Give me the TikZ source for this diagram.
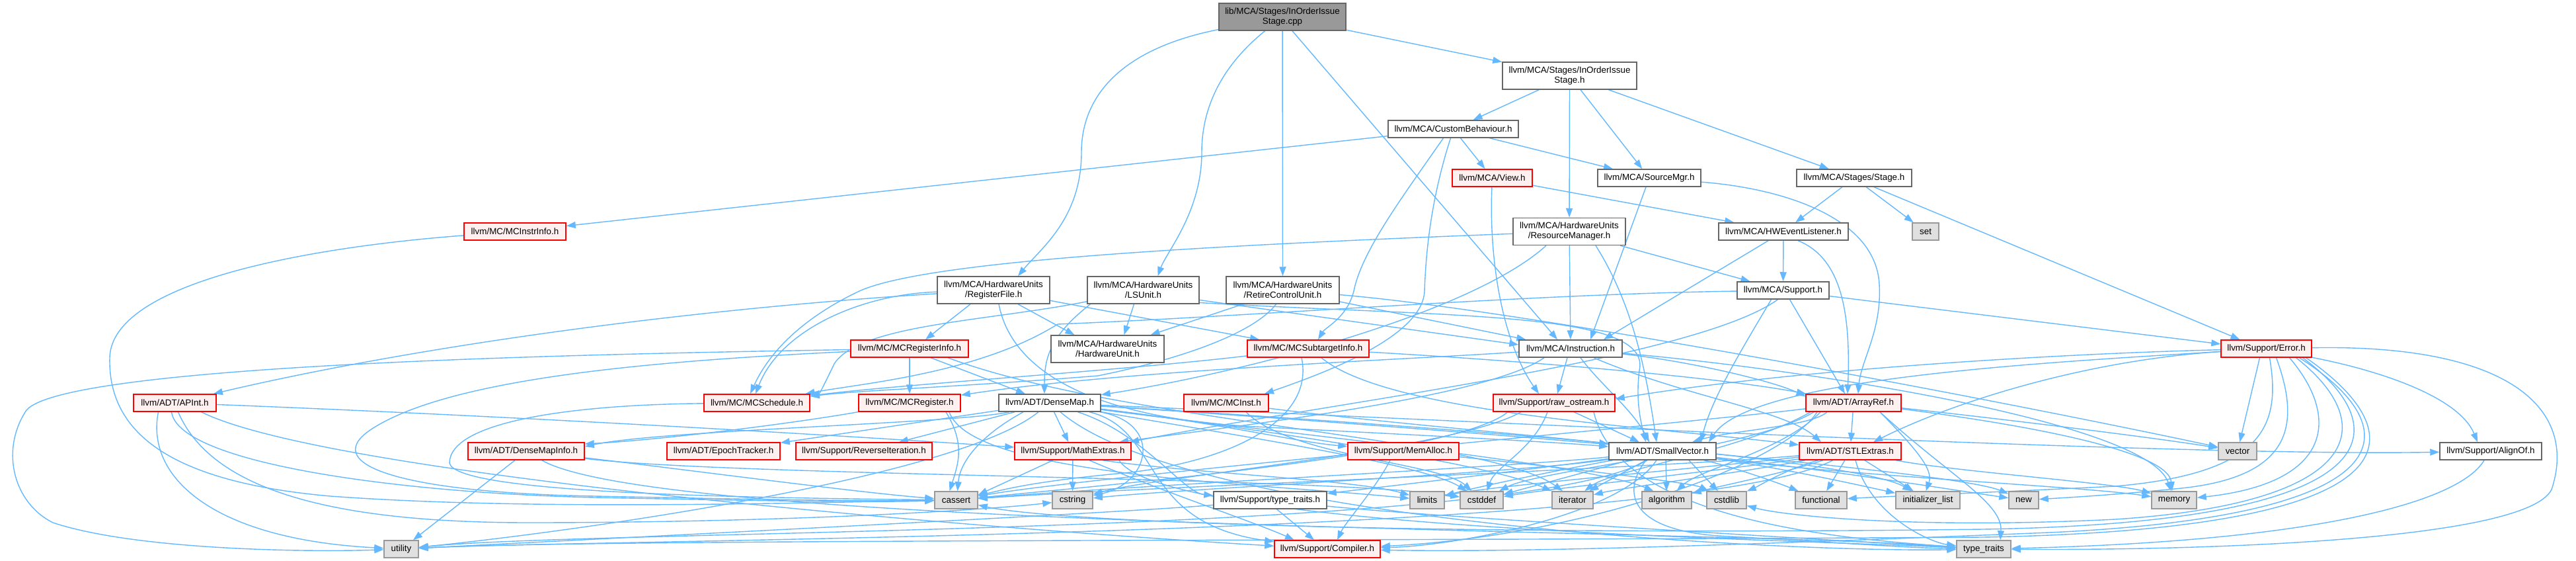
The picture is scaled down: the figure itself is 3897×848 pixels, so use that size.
\documentclass[tikz,border=0pt]{standalone}
\usepackage{fontspec}
\setmainfont{Liberation Sans}
\usetikzlibrary{arrows.meta}
\definecolor{edgec}{HTML}{63B8FF}
\definecolor{greyd}{HTML}{666666}
\definecolor{redfill}{HTML}{FFF0F0}
\definecolor{redc}{HTML}{FF0000}
\definecolor{sysfill}{HTML}{E0E0E0}
\definecolor{sysdraw}{HTML}{999999}
\definecolor{rootfill}{HTML}{999999}
\pgfdeclarelayer{bg}
\pgfsetlayers{bg,main}
\tikzset{
  nbox/.style={rectangle, draw, line width=1.5pt, inner sep=0pt, minimum height=26pt, align=center, font=\fontsize{13.4}{15}\selectfont},
  wbox/.style={nbox, fill=white, draw=greyd},
  rbox/.style={nbox, fill=redfill, draw=redc},
  gbox/.style={nbox, fill=sysfill, draw=sysdraw},
  rootbox/.style={nbox, fill=rootfill, draw=greyd},
  twol/.style={minimum height=41pt},
  dep/.style={draw=edgec, line width=1.4pt, -{Triangle[length=14pt,width=10pt]}},
}
\begin{document}
\begin{tikzpicture}[x=1pt,y=-1pt]
\useasboundingbox (0,0) rectangle (3897,848);
% ---------- nodes ----------
\node[rootbox,twol,minimum width=192pt] (root) at (1940,25.5) {lib/MCA/Stages/InOrderIssue\\Stage.cpp};
\node[wbox,twol,minimum width=203pt] (IOSh) at (2374.5,114.5) {llvm/MCA/Stages/InOrderIssue\\Stage.h};
\node[wbox,minimum width=197pt] (CB) at (2198.5,195) {llvm/MCA/CustomBehaviour.h};
\node[rbox,minimum width=121pt] (View) at (2257.5,269) {llvm/MCA/View.h};
\node[wbox,minimum width=156pt] (SrcMgr) at (2495,269) {llvm/MCA/SourceMgr.h};
\node[wbox,minimum width=174pt] (Stage) at (2805,269) {llvm/MCA/Stages/Stage.h};
\node[rbox,minimum width=154pt] (InstrInfo) at (779,350) {llvm/MC/MCInstrInfo.h};
\node[wbox,twol,minimum width=170pt] (RM) at (2374,350) {llvm/MCA/HardwareUnits\\/ResourceManager.h};
\node[wbox,minimum width=196pt] (HWEL) at (2698,350) {llvm/MCA/HWEventListener.h};
\node[gbox,minimum width=40pt] (set) at (2913,350) {set};
\node[wbox,twol,minimum width=170pt] (RF) at (1503,438.5) {llvm/MCA/HardwareUnits\\/RegisterFile.h};
\node[wbox,twol,minimum width=169pt] (LSU) at (1729.5,438.5) {llvm/MCA/HardwareUnits\\/LSUnit.h};
\node[wbox,twol,minimum width=171pt] (RCU) at (1940.5,438.5) {llvm/MCA/HardwareUnits\\/RetireControlUnit.h};
\node[wbox,minimum width=139pt] (Sup) at (2697.5,439) {llvm/MCA/Support.h};
\node[rbox,minimum width=178pt] (RegInfo) at (1376,527) {llvm/MC/MCRegisterInfo.h};
\node[wbox,twol,minimum width=171pt] (HWU) at (1675.5,527.5) {llvm/MCA/HardwareUnits\\/HardwareUnit.h};
\node[rbox,minimum width=184pt] (STI) at (1979,527) {llvm/MC/MCSubtargetInfo.h};
\node[wbox,minimum width=156pt] (Instr) at (2376,527) {llvm/MCA/Instruction.h};
\node[rbox,minimum width=137pt] (Err) at (3428.5,527) {llvm/Support/Error.h};
\node[rbox,minimum width=125pt] (APInt) at (264.5,609) {llvm/ADT/APInt.h};
\node[rbox,minimum width=160pt] (Sched) at (1145,609) {llvm/MC/MCSchedule.h};
\node[rbox,minimum width=154pt] (MCReg) at (1376,609) {llvm/MC/MCRegister.h};
\node[wbox,minimum width=154pt] (DM) at (1588,609) {llvm/ADT/DenseMap.h};
\node[rbox,minimum width=128pt] (MCInst) at (1855,609) {llvm/MC/MCInst.h};
\node[rbox,minimum width=184pt] (raw) at (2351,609) {llvm/Support/raw\_ostream.h};
\node[rbox,minimum width=144pt] (AR) at (2804,609) {llvm/ADT/ArrayRef.h};
\node[rbox,minimum width=176pt] (DMI) at (796,682) {llvm/ADT/DenseMapInfo.h};
\node[rbox,minimum width=171pt] (Epoch) at (1094.5,682) {llvm/ADT/EpochTracker.h};
\node[rbox,minimum width=206pt] (RevIt) at (1307,682) {llvm/Support/ReverseIteration.h};
\node[rbox,minimum width=176pt] (Math) at (1623,682) {llvm/Support/MathExtras.h};
\node[rbox,minimum width=168pt] (MemA) at (2123,682) {llvm/Support/MemAlloc.h};
\node[wbox,minimum width=162pt] (SV) at (2515,682) {llvm/ADT/SmallVector.h};
\node[rbox,minimum width=154pt] (STL) at (2799,682) {llvm/ADT/STLExtras.h};
\node[gbox,minimum width=58pt] (vector) at (3385,682) {vector};
\node[wbox,minimum width=154pt] (AlignOf) at (3768,682) {llvm/Support/AlignOf.h};
\node[gbox,minimum width=65pt] (cassert) at (1446.5,756) {cassert};
\node[gbox,minimum width=61pt] (cstring) at (1622.5,756) {cstring};
\node[wbox,minimum width=171pt] (lltt) at (1921.5,756) {llvm/Support/type\_traits.h};
\node[gbox,minimum width=52pt] (limits) at (2159,756) {limits};
\node[gbox,minimum width=65pt] (cstddef) at (2241.5,756) {cstddef};
\node[gbox,minimum width=62pt] (iterator) at (2379,756) {iterator};
\node[gbox,minimum width=75pt] (algorithm) at (2521.5,756) {algorithm};
\node[gbox,minimum width=60pt] (cstdlib) at (2612,756) {cstdlib};
\node[gbox,minimum width=78pt] (functional) at (2755,756) {functional};
\node[gbox,minimum width=97pt] (initlist) at (2916.5,756) {initializer\_list};
\node[gbox,minimum width=45pt] (new) at (3061.5,756) {new};
\node[gbox,minimum width=68pt] (memory) at (3289,756) {memory};
\node[gbox,minimum width=52pt] (utility) at (607,830) {utility};
\node[rbox,minimum width=160pt] (Comp) at (2008,830) {llvm/Support/Compiler.h};
\node[gbox,minimum width=82pt] (tt) at (3001,830) {type\_traits};
% ---------- edges ----------
\begin{pgfonlayer}{bg}
% root
\draw[dep] (root) -- (IOSh);
\draw[dep] (root) .. controls (1690,75) and (1636,150) .. (1636,230) .. controls (1636,330) and (1575,375) .. ([xshift=37pt]RF.north);
\draw[dep] (root) .. controls (1860,90) and (1818,150) .. (1818,230) .. controls (1818,320) and (1765,380) .. ([xshift=22pt]LSU.north);
\draw[dep] (root) -- (RCU);
\draw[dep] ([xshift=15pt]root.south) -- ([xshift=-20pt]Instr.north);
% InOrderIssueStage.h
\draw[dep] (IOSh) -- (CB);
\draw[dep] (IOSh) -- (RM);
\draw[dep] (IOSh) -- (SrcMgr);
\draw[dep] (IOSh) -- (Stage);
% CustomBehaviour
\draw[dep] (CB) -- (InstrInfo);
\draw[dep] ([xshift=-15pt]CB.south) .. controls (2120,300) and (2060,380) .. (2048,440) .. controls (2038,480) and (2005,495) .. ([xshift=15pt]STI.north);
\draw[dep] ([xshift=-4pt]CB.south) .. controls (2165,300) and (2157,380) .. (2155,440) .. controls (2152,510) and (2000,565) .. ([xshift=58pt]MCInst.north);
\draw[dep] (CB) -- (View);
\draw[dep] (CB) -- (SrcMgr);
% View
\draw[dep] (View) .. controls (2252,400) and (2275,520) .. ([xshift=-23pt]raw.north);
\draw[dep] (View) -- (HWEL);
% SourceMgr
\draw[dep] (SrcMgr) -- ([xshift=30pt]Instr.north);
\draw[dep] (SrcMgr) .. controls (2700,285) and (2838,330) .. (2843,430) .. controls (2847,500) and (2815,545) .. ([xshift=7pt]AR.north);
% Stage
\draw[dep] (Stage) -- (HWEL);
\draw[dep] (Stage) -- (set);
\draw[dep] ([xshift=30pt]Stage.south) -- ([xshift=-40pt]Err.north);
% ResourceManager
\draw[dep] (RM) .. controls (1800,372) and (1400,395) .. (1300,440) .. controls (1205,485) and (1160,540) .. ([xshift=-10pt]Sched.north);
\draw[dep] ([xshift=-35pt]RM.south) .. controls (2230,470) and (1900,560) .. (DM);
\draw[dep] (RM) -- (Instr);
\draw[dep] ([xshift=40pt]RM.south) .. controls (2470,460) and (2490,560) .. ([xshift=-9pt]SV.north);
\draw[dep] (RM) -- (Sup);
% HWEventListener
\draw[dep] (HWEL) -- ([xshift=50pt]Instr.north);
\draw[dep] (HWEL) -- (Sup);
\draw[dep] ([xshift=22pt]HWEL.south) .. controls (2785,390) and (2800,470) .. ([xshift=-9pt]AR.north);
% Support
\draw[dep] (Sup) .. controls (2300,445) and (1900,478) .. (1600,490) .. controls (1480,565) and (1300,580) .. (Sched);
\draw[dep] ([xshift=-18pt]Sup.south) .. controls (2640,520) and (2590,600) .. ([xshift=58pt]SV.north);
\draw[dep] ([xshift=10pt]Sup.south) -- ([xshift=-13pt]AR.north);
\draw[dep] (Sup) -- ([yshift=7pt]Err.west);
\draw[dep] ([xshift=-8pt]Sup.south) .. controls (2560,545) and (2000,610) .. ([xshift=86pt]Math.north);
% Instruction
\draw[dep] (Instr) .. controls (2100,545) and (1700,560) .. (MCReg);
\draw[dep] ([xshift=-40pt]Instr.south) .. controls (2250,600) and (1900,640) .. ([xshift=70pt]Math.north);
\draw[dep] ([xshift=-5pt]Instr.south) -- ([xshift=5pt]raw.north);
\draw[dep] ([xshift=15pt]Instr.south) .. controls (2420,580) and (2470,620) .. ([xshift=-20pt]SV.north);
\draw[dep] ([xshift=35pt]Instr.south) .. controls (2550,600) and (2700,620) .. ([xshift=-44pt]STL.north);
\draw[dep] (Instr) .. controls (2550,545) and (2680,575) .. ([yshift=10pt]AR.west);
\draw[dep] (Instr) .. controls (2750,560) and (3250,640) .. (memory);
% RegisterFile
\draw[dep] (RF) .. controls (1000,470) and (600,530) .. (APInt);
\draw[dep] (RF) .. controls (1300,445) and (1180,500) .. ([xshift=-2pt]Sched.north);
\draw[dep] ([xshift=-35pt]RF.south) -- ([xshift=24pt]RegInfo.north);
\draw[dep] ([xshift=8pt]RF.south) .. controls (1530,560) and (1650,632) .. (1900,645) .. controls (2150,658) and (2350,668) .. (SV);
\draw[dep] ([xshift=37pt]RF.south) -- ([xshift=-50pt]HWU.north);
\draw[dep] (RF) -- (STI);
% LSUnit
\draw[dep] (LSU) .. controls (1500,485) and (1300,490) .. (1262,550) .. controls (1250,575) and (1240,595) .. (Sched);
\draw[dep] ([xshift=-80pt]LSU.south) .. controls (1585,510) and (1580,545) .. ([xshift=-8pt]DM.north);
\draw[dep] ([xshift=-14pt]LSU.south) -- ([xshift=25pt]HWU.north);
\draw[dep] ([yshift=-15pt]LSU.east) -- ([yshift=6pt]Instr.west);
\draw[dep] ([yshift=-19pt]LSU.east) .. controls (2200,480) and (2500,470) .. (2480,560) .. controls (2475,600) and (2480,630) .. ([xshift=-25pt]SV.north);
% RetireControlUnit
\draw[dep] ([xshift=-60pt]RCU.south) -- ([xshift=65pt]HWU.north);
\draw[dep] ([xshift=-10pt]RCU.south) .. controls (1900,500) and (1800,540) .. (1661,568) .. controls (1450,585) and (1300,590) .. (Sched);
\draw[dep] (RCU) -- (Instr);
\draw[dep] (RCU) .. controls (2300,468) and (3000,600) .. (vector);
% MCRegisterInfo
\draw[dep] (RegInfo) -- (MCReg);
\draw[dep] ([xshift=32pt]RegInfo.south) -- ([xshift=-37pt]DM.north);
\draw[dep] ([xshift=58pt]RegInfo.south) .. controls (1700,640) and (2250,660) .. ([xshift=-15pt]iterator.north);
\draw[dep] (RegInfo) .. controls (900,535) and (100,550) .. (40,620) .. controls (0,680) and (20,760) .. (80,790) .. controls (200,830) and (450,835) .. (utility);
\draw[dep] (RegInfo) .. controls (1000,545) and (680,570) .. (560,650) .. controls (480,705) and (620,745) .. (900,750) .. controls (1100,754) and (1300,758) .. (cassert);
% MCSubtargetInfo
\draw[dep] (STI) .. controls (1700,560) and (1350,582) .. (Sched);
\draw[dep] ([xshift=20pt]STI.south) .. controls (2100,625) and (2500,645) .. (STL);
\draw[dep] (STI) .. controls (2300,545) and (2600,570) .. (AR);
\draw[dep] ([xshift=-10pt]STI.south) .. controls (1990,640) and (1850,700) .. (1700,715) .. controls (1560,728) and (1520,740) .. (cassert);
% DenseMap
\draw[dep] (DM) .. controls (1450,640) and (1000,650) .. ([yshift=7pt]DMI.east);
\draw[dep] (DM) -- (Epoch);
\draw[dep] (DM) -- (RevIt);
\draw[dep] (DM) -- (Math);
\draw[dep] ([xshift=-40pt]DM.south) .. controls (1480,660) and (1452,700) .. ([xshift=2pt]cassert.north);
\draw[dep] (DM) .. controls (1760,640) and (1740,730) .. (cstring);
\draw[dep] (DM) .. controls (1730,655) and (1790,745) .. (lltt);
\draw[dep] ([xshift=60pt]DM.south) .. controls (1760,650) and (1720,790) .. (Comp);
\draw[dep] (DM) .. controls (1850,640) and (1960,668) .. (MemA);
\draw[dep] (DM) .. controls (2300,640) and (3300,690) .. (AlignOf);
\draw[dep] (DM) .. controls (1900,650) and (2400,700) .. ([xshift=-20pt]algorithm.north);
\draw[dep] (DM) .. controls (1850,655) and (2150,700) .. (cstddef);
\draw[dep] (DM) .. controls (2100,640) and (2800,690) .. (initlist);
\draw[dep] (DM) .. controls (1900,648) and (2250,700) .. (iterator);
\draw[dep] (DM) .. controls (2150,645) and (2950,710) .. (new);
\draw[dep] (DM) .. controls (1800,790) and (2700,835) .. (tt);
\draw[dep] (DM) .. controls (1450,720) and (900,800) .. (utility);
% MCInst
\draw[dep] (MCInst) .. controls (2100,640) and (2350,660) .. (SV);
\draw[dep] ([xshift=30pt]MCInst.south) .. controls (1950,690) and (2180,700) .. (cstddef);
% raw_ostream
\draw[dep] ([xshift=30pt]raw.south) -- ([xshift=-35pt]SV.north);
\draw[dep] ([xshift=-70pt]raw.south) .. controls (2200,690) and (1650,735) .. (cassert);
\draw[dep] ([xshift=-10pt]raw.south) .. controls (2320,680) and (2262,705) .. ([xshift=8pt]cstddef.north);
\draw[dep] ([xshift=-50pt]raw.south) .. controls (2200,680) and (1750,720) .. (cstring);
\draw[dep] ([xshift=60pt]raw.south) .. controls (2450,790) and (2800,815) .. (tt);
% ArrayRef
\draw[dep] (AR) -- (STL);
\draw[dep] ([xshift=-40pt]AR.south) .. controls (2740,645) and (2620,650) .. ([xshift=45pt]SV.north);
\draw[dep] ([xshift=-55pt]AR.south) .. controls (2700,700) and (2400,810) .. (Comp);
\draw[dep] ([xshift=-50pt]AR.south) .. controls (2700,680) and (2570,710) .. ([xshift=15pt]algorithm.north);
\draw[dep] (AR) .. controls (2550,640) and (1650,720) .. (cassert);
\draw[dep] ([xshift=-60pt]AR.south) .. controls (2650,680) and (2330,710) .. (cstddef);
\draw[dep] ([xshift=40pt]AR.south) .. controls (2900,680) and (2925,710) .. ([xshift=-3pt]initlist.north);
\draw[dep] ([xshift=-65pt]AR.south) .. controls (2640,680) and (2440,710) .. (iterator);
\draw[dep] (AR) .. controls (3050,640) and (3280,680) .. ([xshift=-3pt]memory.north);
\draw[dep] ([xshift=40pt]AR.south) .. controls (2950,720) and (3030,760) .. ([xshift=25pt]tt.north);
\draw[dep] (AR) .. controls (3000,630) and (3250,660) .. (vector);
% DenseMapInfo
\draw[dep] ([xshift=-17pt]DMI.south) -- ([xshift=18pt]utility.north);
\draw[dep] (DMI) .. controls (1000,705) and (1300,745) .. (cassert);
\draw[dep] (DMI) .. controls (1100,720) and (2000,720) .. (cstddef);
\draw[dep] (DMI) .. controls (1000,800) and (2600,800) .. (tt);
% MCRegister
\draw[dep] (MCReg) .. controls (1200,640) and (1000,665) .. ([yshift=11pt]DMI.east);
\draw[dep] ([xshift=55pt]MCReg.south) .. controls (1460,670) and (1450,700) .. ([xshift=-10pt]cassert.north);
\draw[dep] ([xshift=60pt]MCReg.south) .. controls (1470,720) and (1900,730) .. (limits);
% APInt
\draw[dep] (APInt) .. controls (800,630) and (1300,660) .. (Math);
\draw[dep] ([xshift=40pt]APInt.south) .. controls (500,720) and (1500,800) .. (Comp);
\draw[dep] ([xshift=-5pt]APInt.south) .. controls (270,700) and (600,745) .. (900,752) .. controls (1100,756) and (1300,760) .. (cassert);
\draw[dep] ([xshift=5pt]APInt.south) .. controls (320,740) and (500,790) .. (800,790) .. controls (1200,790) and (1500,770) .. (cstring);
\draw[dep] ([xshift=-25pt]APInt.south) .. controls (220,720) and (320,815) .. (utility);
% MCSchedule
\draw[dep] (Sched) .. controls (850,612) and (680,640) .. (680,700) .. controls (690,745) and (1100,752) .. (cassert);
% MathExtras
\draw[dep] ([xshift=25pt]Math.south) .. controls (1750,740) and (1900,790) .. ([xshift=-50pt]Comp.north);
\draw[dep] ([xshift=-30pt]Math.south) -- ([yshift=8pt]cassert.east);
\draw[dep] (Math) -- (cstring);
\draw[dep] ([xshift=45pt]Math.south) .. controls (1800,715) and (2050,725) .. (limits);
\draw[dep] ([xshift=70pt]Math.south) .. controls (1760,800) and (2700,815) .. (tt);
% MemAlloc
\draw[dep] ([xshift=-20pt]MemA.south) .. controls (2080,740) and (2035,790) .. ([xshift=15pt]Comp.north);
\draw[dep] (MemA) .. controls (2350,705) and (2560,730) .. (cstdlib);
% SmallVector
\draw[dep] (SV) .. controls (2450,780) and (2200,825) .. (Comp);
\draw[dep] (SV) .. controls (2300,712) and (2100,735) .. (lltt);
\draw[dep] ([xshift=5pt]SV.south) -- (algorithm);
\draw[dep] (SV) .. controls (2300,705) and (1700,735) .. (cassert);
\draw[dep] (SV) -- (cstddef);
\draw[dep] ([xshift=40pt]SV.south) -- (cstdlib);
\draw[dep] (SV) .. controls (2300,715) and (1800,738) .. (cstring);
\draw[dep] (SV) .. controls (2620,705) and (2690,730) .. (functional);
\draw[dep] (SV) .. controls (2700,708) and (2820,735) .. (initlist);
\draw[dep] (SV) -- (iterator);
\draw[dep] (SV) .. controls (2350,712) and (2240,735) .. (limits);
\draw[dep] (SV) .. controls (2800,720) and (3150,735) .. (memory);
\draw[dep] (SV) .. controls (2800,715) and (2950,740) .. (new);
\draw[dep] ([xshift=-25pt]SV.south) .. controls (2455,740) and (2460,800) .. (2600,810) .. controls (2750,818) and (2880,828) .. (tt);
\draw[dep] (SV) .. controls (2300,810) and (900,800) .. (utility);
% STLExtras
\draw[dep] (STL) .. controls (2700,715) and (2600,735) .. (algorithm);
\draw[dep] (STL) .. controls (2500,708) and (1700,738) .. (cassert);
\draw[dep] (STL) .. controls (2600,712) and (2350,738) .. (cstddef);
\draw[dep] (STL) .. controls (2700,710) and (2660,735) .. (cstdlib);
\draw[dep] (STL) -- (functional);
\draw[dep] (STL) -- (initlist);
\draw[dep] (STL) .. controls (2650,712) and (2450,738) .. (iterator);
\draw[dep] (STL) .. controls (2600,705) and (2250,735) .. (limits);
\draw[dep] (STL) .. controls (2950,712) and (3200,730) .. (memory);
\draw[dep] ([xshift=8pt]STL.south) .. controls (2830,780) and (2920,820) .. (tt);
\draw[dep] (STL) .. controls (2550,812) and (900,815) .. (utility);
% Error
\draw[dep] (Err) .. controls (3150,545) and (2950,610) .. ([xshift=35pt]STL.north);
\draw[dep] (Err) .. controls (3100,535) and (2700,560) .. ([yshift=6pt]raw.east);
\draw[dep] (Err) .. controls (3100,548) and (2650,570) .. ([xshift=70pt]SV.north);
\draw[dep] ([xshift=-10pt]Err.south) -- (vector);
\draw[dep] ([xshift=5pt]Err.south) .. controls (3450,640) and (3430,715) .. (3200,735) .. controls (3000,745) and (2860,750) .. (functional);
\draw[dep] ([xshift=15pt]Err.south) .. controls (3480,640) and (3470,720) .. (3300,738) .. controls (3200,748) and (3130,752) .. (new);
\draw[dep] ([xshift=35pt]Err.south) .. controls (3540,630) and (3530,730) .. (memory);
\draw[dep] ([xshift=45pt]Err.south) .. controls (3600,640) and (3580,760) .. (3200,785) .. controls (2900,800) and (2700,780) .. (cstdlib);
\draw[dep] ([xshift=50pt]Err.south) .. controls (3650,650) and (3640,780) .. (3100,805) .. controls (2600,825) and (2300,835) .. (Comp);
\draw[dep] ([xshift=55pt]Err.south) .. controls (3630,650) and (3620,790) .. (3000,800) .. controls (2200,810) and (1600,790) .. (cassert);
\draw[dep] ([xshift=60pt]Err.south) .. controls (3660,660) and (3660,800) .. (3000,812) .. controls (2000,818) and (900,815) .. (utility);
\draw[dep] (Err) .. controls (3600,560) and (3720,600) .. ([xshift=-20pt]AlignOf.north);
\draw[dep] (Err) .. controls (3800,520) and (3900,620) .. (3860,740) .. controls (3820,820) and (3300,832) .. (tt);
% llvm type_traits
\draw[dep] ([xshift=10pt]lltt.south) -- ([xshift=-20pt]Comp.north);
\draw[dep] (lltt) .. controls (2150,780) and (2750,815) .. (tt);
\draw[dep] (lltt) .. controls (1700,775) and (900,815) .. (utility);
% AlignOf
\draw[dep] ([xshift=-10pt]AlignOf.south) .. controls (3720,760) and (3500,818) .. (tt);
% MCInstrInfo
\draw[dep] (InstrInfo) .. controls (450,375) and (170,430) .. (166,540) .. controls (163,650) and (250,728) .. (500,750) .. controls (800,772) and (1200,760) .. (cassert);
\end{pgfonlayer}
\end{tikzpicture}
\end{document}
